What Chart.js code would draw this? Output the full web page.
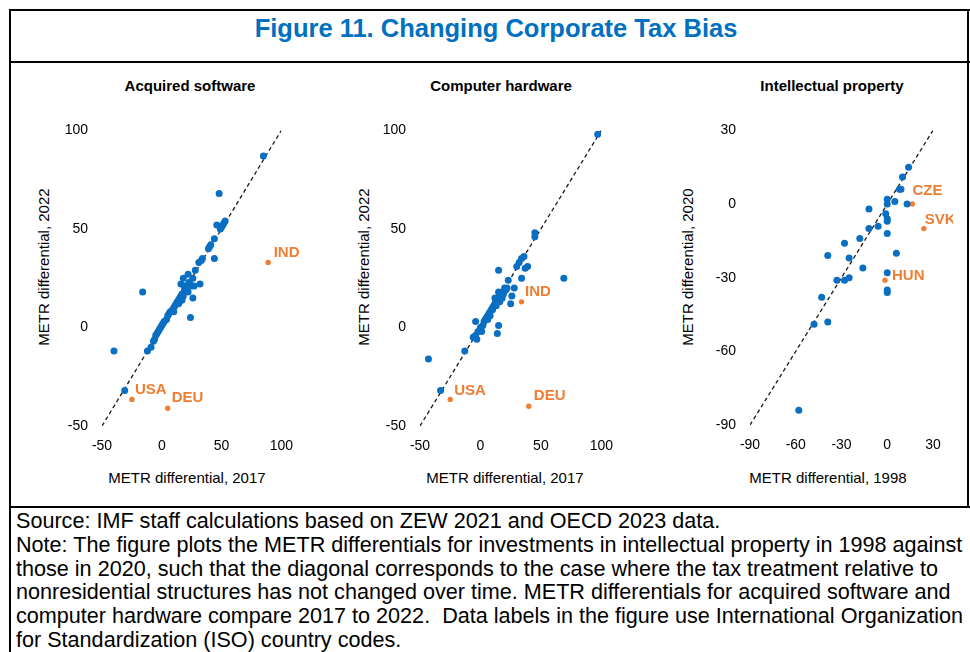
<!DOCTYPE html>
<html>
<head>
<meta charset="utf-8">
<script src="https://cdn.jsdelivr.net/npm/chart.js@4.4.1/dist/chart.umd.min.js"></script>
<style>
body { margin: 0; width: 970px; height: 652px; overflow: hidden; background: #fff; position: relative;
       font-family: Arial, "Liberation Sans", sans-serif; color: #000; }
.hline { position: absolute; height: 2px; background: #000; }
.vline { position: absolute; width: 2px; background: #000; }
#figTitle { position: absolute; left: 0; width: 992px; top: 12px; text-align: center; font-weight: bold;
            font-size: 25.5px; line-height: 32px; color: #0070C0; }
.ptitle { position: absolute; width: 300px; margin-left: -150px; top: 77px; text-align: center;
          font-weight: bold; font-size: 15px; line-height: 18px; }
.xtitle { position: absolute; width: 300px; margin-left: -150px; top: 469px; text-align: center;
          font-size: 15px; line-height: 18px; }
.ytitle { position: absolute; font-size: 15px; line-height: 18px; white-space: nowrap;
          transform: translate(-50%, -50%) rotate(-90deg); }
canvas { position: absolute; }
#notes { position: absolute; left: 16px; top: 509px; font-size: 21.6px; line-height: 23.8px; white-space: pre; }
</style>
</head>
<body>
<div class="hline" style="left:9px; top:9px; width:961px;"></div>
<div class="hline" style="left:9px; top:61px; width:961px;"></div>
<div class="hline" style="left:9px; top:506px; width:961px;"></div>
<div class="vline" style="left:9px; top:9px; height:643px;"></div>
<div class="vline" style="left:967px; top:9px; height:499px;"></div>

<div id="figTitle">Figure 11. Changing Corporate Tax Bias</div>

<div class="ptitle" style="left:190px;">Acquired software</div>
<div class="ptitle" style="left:501px;">Computer hardware</div>
<div class="ptitle" style="left:832px;">Intellectual property</div>

<div class="ytitle" style="left:43.5px; top:267px;">METR differential, 2022</div>
<div class="ytitle" style="left:363.5px; top:267px;">METR differential, 2022</div>
<div class="ytitle" style="left:687.5px; top:267px;">METR differential, 2020</div>

<div class="xtitle" style="left:187px;">METR differential, 2017</div>
<div class="xtitle" style="left:505px;">METR differential, 2017</div>
<div class="xtitle" style="left:828px;">METR differential, 1998</div>

<canvas id="swChart" width="283" height="358" style="left:22px; top:108px;"></canvas>
<canvas id="hwChart" width="285" height="358" style="left:340px; top:108px;"></canvas>
<canvas id="ipChart" width="283" height="357" style="left:670px; top:108px;"></canvas>

<div id="notes">Source: IMF staff calculations based on ZEW 2021 and OECD 2023 data.
Note: The figure plots the METR differentials for investments in intellectual property in 1998 against
those in 2020, such that the diagonal corresponds to the case where the tax treatment relative to
nonresidential structures has not changed over time. METR differentials for acquired software and
computer hardware compare 2017 to 2022.  Data labels in the figure use International Organization
for Standardization (ISO) country codes.</div>

<script>
const blue = '#0A6EC2';
const orange = '#EF7D32';

// Acquired software, 2017 (x) vs 2022 (y)
const swX = [85, 48, 46, 52, 50, 49, 51, 53, 44, 40, 41, 39, 44, 33, 34, 31, 28, 18, 22, 32, 16, 23, 25, 22, 20, 19, 26, 24, -16, -40, -31,
             -12, -9, -7, -6, -5, -4, -3, -2, -1, 0, 1, 2, 4, 5, 6, 7, 8, 9, 10, 11, 12, 13, 14, 15, 16, 17, 18, 19, 14, 10, 20, 21, 17, 15, 27, 26];
const swY = [87, 68, 52, 53, 51, 50, 52, 54, 45, 41, 42, 40, 35, 34, 35, 33, 29, 25, 27, 22, 22, 23, 21, 18, 20, 21, 15, 5, 18, -12, -32,
             -12, -10, -7, -6, -4, -3, -2, -1, 0, 1, 2, 3, 4, 6, 7, 8, 8, 9, 10, 11, 12, 13, 14, 15, 16, 17, 16, 19, 12, 8, 21, 19, 14, 13, 21, 25];
const swLabels = ['USA', 'DEU', 'IND'];
const swLabX = [-25, 5, 89];
const swLabY = [-36.5, -41, 33];

// Computer hardware, 2017 (x) vs 2022 (y)
const hwX = [97, 69, 45, 45, 34, 36, 30, 32, 39, 37, 15, 34, 23, 28, 26, 25, 15, 14, -4, 1, -3, -6, -13, -43, -33,
             -4, -2, 0, 2, 3, 4, 5, 6, 7, 8, 9, 10, 11, 12, 13, 14, 15, 16, 17, 18, 15, 16, 19, 20, 21, 22, 12, 10, 13, 18, 8, 6];
const hwY = [98, 25, 48, 46, 35, 36, 31, 33, 31, 30, 29, 25, 24, 20, 16, 12, 1, -3, 3, -2, -6, -5, -12, -16, -32,
             -4, -2, 0, 1, 3, 4, 5, 6, 7, 8, 9, 10, 11, 12, 13, 14, 15, 16, 17, 18, 18, 13, 17, 20, 19, 20, 15, 9, 11, 15, 6, 4];
const hwLabels = ['USA', 'DEU', 'IND'];
const hwLabX = [-25, 40, 34];
const hwLabY = [-36.5, -40, 13];

// Intellectual property, 1998 (x) vs 2020 (y)
const ipX = [14, 10, 8, 9, 5, 0, 0, 13, -12, -1, 0, 0, -12, -6, 0, -18, -28, -39, -25, 6, -16, 0, -33, -28, -25, 0, 0, -43, -48, -39, -58];
const ipY = [15, 11, 6, 6, 1, 2, 0, 0, -2, -4, -6, -7, -10, -9, -12, -14, -16, -21, -22, -20, -26, -28, -31, -31, -30, -35, -36, -38, -49, -48, -84];
const ipLabels = ['CZE', 'SVK', 'HUN'];
const ipLabX = [16.5, 24, -1.5];
const ipLabY = [0, -10, -31];

// tick labels
const swTicks = [-50, 0, 50, 100];
const hwTicks = [-50, 0, 50, 100];
const ipTicks = [-90, -60, -30, 0, 30];

function toPoints(xs, ys) {
    return xs.map((x, i) => ({ x: x, y: ys[i] }));
}

// country code labels next to the orange points
function labelPlugin(labels, offsets) {
    return {
        id: 'countryLabels',
        afterDatasetsDraw(chart) {
            const ctx = chart.ctx;
            const meta = chart.getDatasetMeta(1);
            ctx.save();
            ctx.font = 'bold 15px Arial, "Liberation Sans", sans-serif';
            ctx.fillStyle = orange;
            ctx.textAlign = 'left';
            ctx.textBaseline = 'middle';
            meta.data.forEach((pt, i) => {
                ctx.fillText(labels[i], pt.x + offsets[i][0], pt.y + offsets[i][1]);
            });
            ctx.restore();
        }
    };
}

function axis(ticks, isX) {
    return {
        type: 'linear',
        min: ticks[0],
        max: ticks[ticks.length - 1],
        grid: { display: false, drawTicks: false },
        border: { display: false },
        afterBuildTicks: s => { s.ticks = ticks.map(v => ({ value: v })); },
        afterFit: s => { if (isX) s.height = 40; else s.width = 80; },
        ticks: {
            color: '#000',
            padding: isX ? 12 : 14,
            font: { family: 'Arial, "Liberation Sans", sans-serif', size: 14 }
        }
    };
}

function drawPanel(id, xs, ys, labX, labY, labels, ticks, offsets) {
    const lo = ticks[0];
    const hi = ticks[ticks.length - 1];
    return new Chart(document.getElementById(id), {
        type: 'scatter',
        data: {
            datasets: [
                { data: toPoints(xs, ys), backgroundColor: blue, borderWidth: 0, pointRadius: 3.5 },
                { data: toPoints(labX, labY), backgroundColor: orange, borderWidth: 0, pointRadius: 2.7 },
                {
                    type: 'line',
                    data: [{ x: lo, y: lo }, { x: hi, y: hi }],
                    borderColor: '#1a1a1a',
                    borderWidth: 1.3,
                    borderDash: [4, 3],
                    pointRadius: 0,
                    fill: false
                }
            ]
        },
        options: {
            responsive: false,
            animation: false,
            layout: { padding: { left: 0, top: 20, right: 20, bottom: 0 } },
            plugins: { legend: { display: false }, tooltip: { enabled: false } },
            scales: { x: axis(ticks, true), y: axis(ticks, false) }
        },
        plugins: [labelPlugin(labels, offsets)]
    });
}

drawPanel('swChart', swX, swY, swLabX, swLabY, swLabels, swTicks, [[3, -10], [4, -10], [5.5, -10]]);
drawPanel('hwChart', hwX, hwY, hwLabX, hwLabY, hwLabels, hwTicks, [[4, -8.5], [5, -10], [3.5, -10]]);
drawPanel('ipChart', ipX, ipY, ipLabX, ipLabY, ipLabels, ipTicks, [[0, -13], [1, -8.5], [7, -4.5]]);
</script>
</body>
</html>
